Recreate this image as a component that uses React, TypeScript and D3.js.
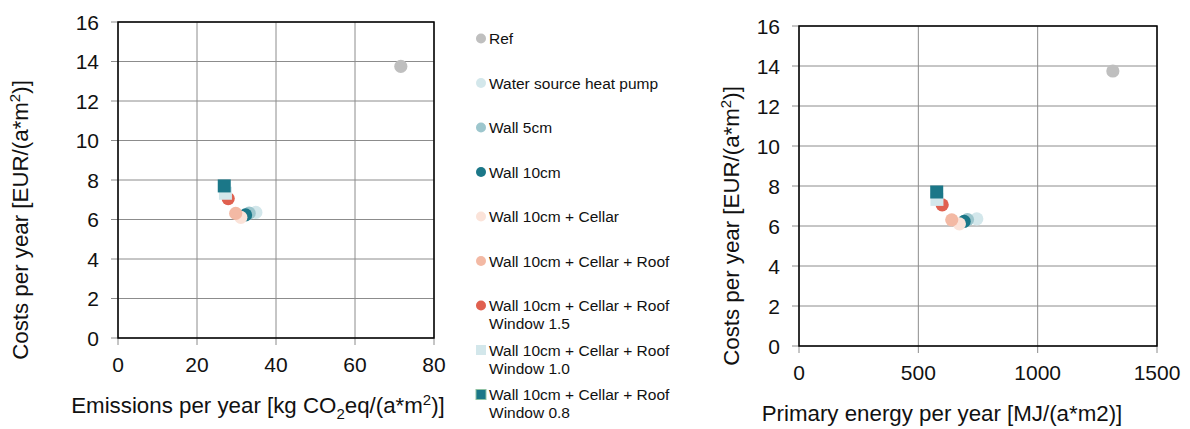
import React from "react";
import * as d3 from "d3";

const seriesNames = [
  "Ref",
  "Water source heat pump",
  "Wall 5cm",
  "Wall 10cm",
  "Wall 10cm + Cellar",
  "Wall 10cm + Cellar + Roof",
  "Wall 10cm + Cellar + Roof\nWindow 1.5",
  "Wall 10cm + Cellar + Roof\nWindow 1.0",
  "Wall 10cm + Cellar + Roof\nWindow 0.8",
];
const seriesShapes = ["circle", "circle", "circle", "circle", "circle", "circle", "circle", "square", "square"];
const seriesColors = ["#bfbfbf", "#d3e7eb", "#9dc6cd", "#1b7788", "#fbe3d9", "#f3b9a4", "#e0604f", "#d3e7eb", "#1b7788"];
const seriesStroke = ["none", "none", "none", "none", "none", "none", "none", "none", "#8fc2a4"];

const emissions = [71.6, 34.9, 33.2, 32.3, 31.1, 29.8, 27.9, 27.2, 26.9];
const primaryEnergy = [1315, 745, 706, 692, 672, 640, 600, 578, 577];
const costs = [13.75, 6.36, 6.32, 6.23, 6.11, 6.31, 7.06, 7.33, 7.7];

const yTicks = [0, 2, 4, 6, 8, 10, 12, 14, 16];
const xTicksLeft = [0, 20, 40, 60, 80];
const xTicksRight = [0, 500, 1000, 1500];

const FONT = "'Liberation Sans', Arial, sans-serif";
const TITLE_SIZE = 22.3;

type PanelProps = {
  x0: number; x1: number; y0: number; y1: number;
  xDomain: [number, number]; xTicks: number[]; xs: number[];
  xTitle: React.ReactNode; xTitleX: number; xTitleY: number;
  yTitleX: number; yTitleY: number;
};

function Panel(p: PanelProps) {
  const x = d3.scaleLinear().domain(p.xDomain).range([p.x0, p.x1]);
  const y = d3.scaleLinear().domain([0, 16]).range([p.y1, p.y0]);
  const grid = "#8c8c8c";
  return (
    <g>
      {yTicks.map((t) => (
        <line key={"h" + t} x1={p.x0 - 7} x2={p.x1} y1={y(t)} y2={y(t)} stroke={grid} strokeWidth={1} />
      ))}
      {p.xTicks.map((t) => (
        <line key={"v" + t} x1={x(t)} x2={x(t)} y1={p.y0} y2={p.y1 + 7} stroke={grid} strokeWidth={1} />
      ))}
      <rect x={p.x0} y={p.y0} width={p.x1 - p.x0} height={p.y1 - p.y0} fill="none" stroke="#000" strokeWidth={1.5} />
      {yTicks.map((t) => (
        <text key={"yl" + t} x={p.x0 - 19} y={y(t)} dy="0.36em" textAnchor="end" fontSize={21} fontFamily={FONT} fill="#111">{t}</text>
      ))}
      {p.xTicks.map((t) => (
        <text key={"xl" + t} x={x(t)} y={p.y1 + 34} textAnchor="middle" fontSize={21} fontFamily={FONT} fill="#111">{t}</text>
      ))}
      <text x={p.xTitleX} y={p.xTitleY} textAnchor="middle" fontSize={TITLE_SIZE} fontFamily={FONT} fill="#111">{p.xTitle}</text>
      <text transform={`translate(${p.yTitleX},${p.yTitleY}) rotate(-90)`} textAnchor="middle" fontSize={TITLE_SIZE} fontFamily={FONT} fill="#111">
        Costs per year [EUR/(a*m<tspan dy={-8} fontSize={15}>2</tspan><tspan dy={8}>)]</tspan>
      </text>
      {p.xs.map((v, i) => {
        const cx = x(v), cy = y(costs[i]);
        return seriesShapes[i] === "square" ? (
          <rect key={i} x={cx - 6.5} y={cy - 6.5} width={13} height={13} fill={seriesColors[i]} />
        ) : (
          <circle key={i} cx={cx} cy={cy} r={6.6} fill={seriesColors[i]} />
        );
      })}
    </g>
  );
}

export default function App() {
  return (
    <svg width={1190} height={429} style={{ position: "absolute", left: 0, top: 0, background: "#fff" }}>
      <Panel
        x0={118} x1={434} y0={22} y1={338}
        xDomain={[0, 80]} xTicks={xTicksLeft} xs={emissions}
        xTitle={<>Emissions per year [kg CO<tspan dy={6} fontSize={15}>2</tspan><tspan dy={-6}>eq/(a*m</tspan><tspan dy={-8} fontSize={15}>2</tspan><tspan dy={8}>)]</tspan></>}
        xTitleX={258} xTitleY={413}
        yTitleX={28} yTitleY={220}
      />
      <Panel
        x0={799} x1={1157} y0={26} y1={346}
        xDomain={[0, 1500]} xTicks={xTicksRight} xs={primaryEnergy}
        xTitle={"Primary energy per year [MJ/(a*m2)]"}
        xTitleX={942} xTitleY={421}
        yTitleX={739} yTitleY={226}
      />
      <g>
        {seriesNames.map((name, i) => {
          const base = 44 + i * 44.5;
          const lines = name.split("\n");
          return (
            <g key={i}>
              {seriesShapes[i] === "square" ? (
                <rect x={476} y={base - 10.5} width={10} height={10} fill={seriesColors[i]} stroke={seriesStroke[i]} strokeWidth={1} />
              ) : (
                <circle cx={481} cy={base - 5.5} r={5} fill={seriesColors[i]} />
              )}
              {lines.map((l, j) => (
                <text key={j} x={489} y={base + j * 18.3} fontSize={15.5} fontFamily={FONT} fill="#111">{l}</text>
              ))}
            </g>
          );
        })}
      </g>
    </svg>
  );
}
